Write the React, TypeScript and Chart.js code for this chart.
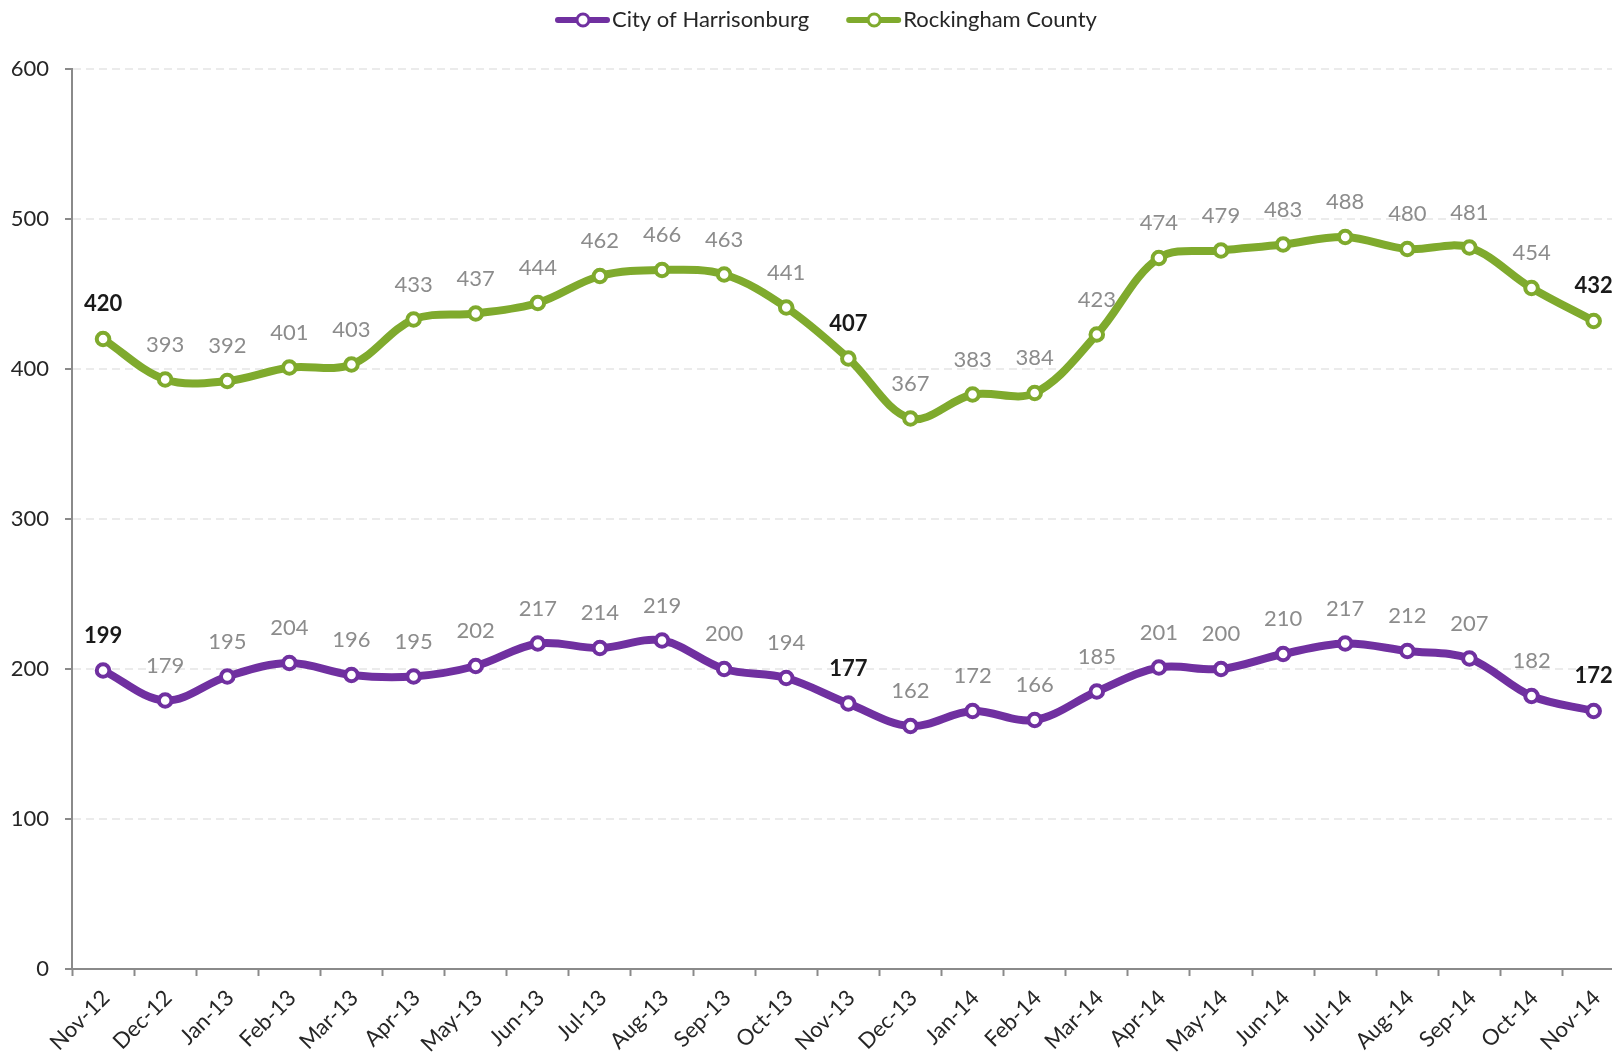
import React, { useEffect, useRef } from 'react';
import { Chart, registerables } from 'chart.js';

Chart.register(...registerables);

const categories = [
  'Nov-12', 'Dec-12', 'Jan-13', 'Feb-13', 'Mar-13', 'Apr-13', 'May-13', 'Jun-13', 'Jul-13',
  'Aug-13', 'Sep-13', 'Oct-13', 'Nov-13', 'Dec-13', 'Jan-14', 'Feb-14', 'Mar-14', 'Apr-14',
  'May-14', 'Jun-14', 'Jul-14', 'Aug-14', 'Sep-14', 'Oct-14', 'Nov-14',
];
const harrisonburg = [199, 179, 195, 204, 196, 195, 202, 217, 214, 219, 200, 194, 177, 162, 172, 166, 185, 201, 200, 210, 217, 212, 207, 182, 172];
const rockingham = [420, 393, 392, 401, 403, 433, 437, 444, 462, 466, 463, 441, 407, 367, 383, 384, 423, 474, 479, 483, 488, 480, 481, 454, 432];
const boldIndices = [0, 12, 24];
const yMin = 0;
const yMax = 600;
const yStep = 100;

const FONT = 'Lato, "Open Sans", sans-serif';
const PURPLE = '#7030A0';
const GREEN = '#7FAA2D';
const AXIS = '#8a8a8a';
const TEXT = '#262626';

const valueLabels = {
  id: 'valueLabels',
  afterDatasetsDraw(chart: any) {
    const ctx = chart.ctx;
    ctx.save();
    ctx.textAlign = 'center';
    ctx.textBaseline = 'middle';
    chart.data.datasets.forEach((ds: any, di: number) => {
      const meta = chart.getDatasetMeta(di);
      meta.data.forEach((pt: any, i: number) => {
        const bold = boldIndices.includes(i);
        ctx.font = `${bold ? 'bold ' : ''}22px ${FONT}`;
        ctx.fillStyle = bold ? '#1a1a1a' : '#8c8c8c';
        ctx.fillText(String(ds.data[i]), pt.x, pt.y - 35);
      });
    });
    ctx.restore();
  },
};

const customLegend = {
  id: 'customLegend',
  afterDraw(chart: any) {
    const ctx = chart.ctx;
    ctx.save();
    let x = 555;
    const y = 20;
    ctx.font = `22px ${FONT}`;
    ctx.textAlign = 'left';
    ctx.textBaseline = 'middle';
    chart.data.datasets.forEach((ds: any) => {
      ctx.strokeStyle = ds.borderColor;
      ctx.lineWidth = 6;
      ctx.lineCap = 'round';
      ctx.beginPath();
      ctx.moveTo(x + 3, y);
      ctx.lineTo(x + 52, y);
      ctx.stroke();
      ctx.beginPath();
      ctx.arc(x + 28, y, 6, 0, Math.PI * 2);
      ctx.fillStyle = '#ffffff';
      ctx.fill();
      ctx.lineWidth = 3;
      ctx.stroke();
      ctx.fillStyle = TEXT;
      ctx.fillText(ds.label, x + 57, y);
      x += 57 + ctx.measureText(ds.label).width + 37;
    });
    ctx.restore();
  },
};

export default function App() {
  const ref = useRef<HTMLCanvasElement>(null);
  useEffect(() => {
    if (!ref.current) return;
    const chart = new Chart(ref.current, {
      type: 'line',
      data: {
        labels: categories,
        datasets: [
          {
            label: 'City of Harrisonburg',
            data: harrisonburg,
            borderColor: PURPLE,
            backgroundColor: PURPLE,
            borderWidth: 8,
            tension: 0.35,
            pointRadius: 6.3,
            pointBorderWidth: 4,
            pointBackgroundColor: '#ffffff',
            pointBorderColor: PURPLE,
          },
          {
            label: 'Rockingham County',
            data: rockingham,
            borderColor: GREEN,
            backgroundColor: GREEN,
            borderWidth: 8,
            tension: 0.35,
            pointRadius: 6.3,
            pointBorderWidth: 4,
            pointBackgroundColor: '#ffffff',
            pointBorderColor: GREEN,
          },
        ],
      },
      options: {
        responsive: false,
        animation: false,
        layout: { padding: { top: 69, left: 0, right: 0, bottom: 0 } },
        plugins: {
          legend: { display: false },
          tooltip: { enabled: false },
        },
        scales: {
          x: {
            offset: true,
            grid: {
              offset: true,
              drawOnChartArea: false,
              drawTicks: true,
              tickLength: 7,
              tickColor: AXIS,
              tickWidth: 2,
            },
            border: { color: AXIS, width: 2 },
            ticks: {
              autoSkip: false,
              maxRotation: 45,
              minRotation: 45,
              padding: 9,
              labelOffset: 3,
              color: TEXT,
              font: { family: FONT, size: 22 },
            },
            afterFit(scale: any) {
              scale.height = 83;
            },
          },
          y: {
            min: yMin,
            max: yMax,
            grid: {
              color: '#ebebeb',
              lineWidth: 2,
              tickLength: 7,
              tickColor: AXIS,
              tickWidth: 2,
              tickBorderDash: [],
            },
            border: { color: AXIS, width: 2, dash: [8, 5] },
            ticks: {
              stepSize: yStep,
              padding: 16,
              color: TEXT,
              font: { family: FONT, size: 22 },
            },
            afterFit(scale: any) {
              scale.width = 72;
            },
          },
        },
      },
      plugins: [valueLabels, customLegend],
    });
    return () => chart.destroy();
  }, []);

  return (
    <div style={{ position: 'fixed', left: 0, top: 0, width: '1612px', height: '1052px', overflow: 'hidden', background: '#fff' }}>
      <canvas ref={ref} width={1635} height={1052} style={{ display: 'block', width: '1635px', height: '1052px' }} />
    </div>
  );
}
